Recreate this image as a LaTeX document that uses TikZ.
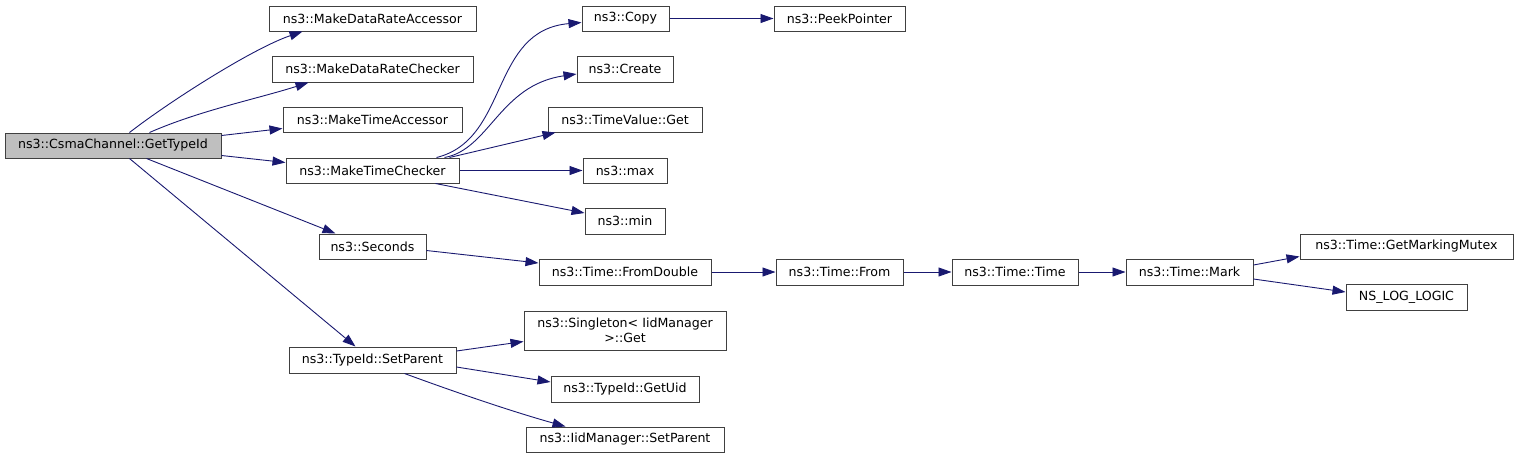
\documentclass[tikz,border=0pt]{standalone}
\usepackage{fontspec}
\setmainfont{DejaVu Sans}
\usetikzlibrary{arrows.meta}
\definecolor{edgeblue}{RGB}{25,25,112}
\definecolor{boxline}{RGB}{64,64,64}
\definecolor{rootfill}{RGB}{191,191,191}
\begin{document}
\begin{tikzpicture}[x=1pt,y=-1pt,
  fbox/.style={draw=boxline, line width=1pt, fill=white, inner sep=0pt, align=center,
    font=\fontsize{12.6}{14.5}\selectfont},
  rootbox/.style={fbox, fill=rootfill},
  call/.style={draw=edgeblue, line width=0.9pt, -{Triangle[length=13pt,width=9pt]}, fill=none},
]
\useasboundingbox (0,0) rectangle (1517,459);
\node[rootbox, minimum width=216, minimum height=25] (gti) at (113,145.5) {ns3::CsmaChannel::GetTypeId};
\node[fbox, minimum width=207, minimum height=25] (mdra) at (372.5,18.5) {ns3::MakeDataRateAccessor};
\node[fbox, minimum width=201, minimum height=26] (mdrc) at (372.5,69) {ns3::MakeDataRateChecker};
\node[fbox, minimum width=179, minimum height=25] (mta) at (372.5,119.5) {ns3::MakeTimeAccessor};
\node[fbox, minimum width=173, minimum height=25] (mtc) at (372.5,170.5) {ns3::MakeTimeChecker};
\node[fbox, minimum width=107, minimum height=25] (sec) at (372.5,246.5) {ns3::Seconds};
\node[fbox, minimum width=167, minimum height=26] (sp) at (372.5,360) {ns3::TypeId::SetParent};
\node[fbox, minimum width=87, minimum height=25] (copy) at (625.5,18.5) {ns3::Copy};
\node[fbox, minimum width=131, minimum height=25] (peek) at (839.5,18.5) {ns3::PeekPointer};
\node[fbox, minimum width=96, minimum height=26] (create) at (625,69) {ns3::Create};
\node[fbox, minimum width=154, minimum height=25] (tvg) at (625,119.5) {ns3::TimeValue::Get};
\node[fbox, minimum width=84, minimum height=25] (max) at (625,170.5) {ns3::max};
\node[fbox, minimum width=80, minimum height=26] (min) at (625,221) {ns3::min};
\node[fbox, minimum width=172, minimum height=26] (fd) at (625,272) {ns3::Time::FromDouble};
\node[fbox, minimum width=127, minimum height=26] (from) at (839.5,272) {ns3::Time::From};
\node[fbox, minimum width=126, minimum height=26] (time) at (1015,272) {ns3::Time::Time};
\node[fbox, minimum width=127, minimum height=26] (mark) at (1189.5,272) {ns3::Time::Mark};
\node[fbox, minimum width=213, minimum height=25] (gmm) at (1406.5,246.5) {ns3::Time::GetMarkingMutex};
\node[fbox, minimum width=121, minimum height=26] (nslog) at (1406.5,297) {NS\_LOG\_LOGIC};
\node[fbox, minimum width=202, minimum height=39] (single) at (625,330.5) {ns3::Singleton\textless{} IidManager\\ \textgreater{}::Get};
\node[fbox, minimum width=148, minimum height=26] (uid) at (625,389) {ns3::TypeId::GetUid};
\node[fbox, minimum width=198, minimum height=25] (iidsp) at (625,439.5) {ns3::IidManager::SetParent};
% edges from GetTypeId
\draw[call] ([xshift=125pt]gti.north west) .. controls +(40pt,31pt) and +(-50pt,-17pt) .. ([xshift=34pt]mdra.south west);
\draw[call] ([xshift=145pt]gti.north west) .. controls +(50pt,22pt) and +(-50pt,-16pt) .. ([xshift=37pt]mdrc.south west);
\draw[call] ([yshift=10pt]gti.east) -- ([yshift=-9pt]mta.west);
\draw[call] ([yshift=-10pt]gti.east) -- ([yshift=8pt]mtc.west);
\draw[call] ([xshift=142pt]gti.south west) -- ([xshift=17pt]sec.north west);
\draw[call] ([xshift=125pt]gti.south west) -- ([xshift=67pt]sp.north west);
% edges from MakeTimeChecker
\draw[call] ([xshift=151pt]mtc.north west) .. controls +(73pt,18pt) and +(-92pt,-8pt) .. ([yshift=-4pt]copy.west);
\draw[call] ([xshift=159pt]mtc.north west) .. controls +(45pt,8pt) and +(-77pt,-11pt) .. ([yshift=-5pt]create.west);
\draw[call] ([xshift=164pt]mtc.north west) -- ([xshift=8pt]tvg.south west);
\draw[call] (mtc.east) -- (max.west);
\draw[call] ([xshift=150pt]mtc.south west) -- ([yshift=8pt]min.west);
\draw[call] (copy.east) -- (peek.west);
% Seconds chain
\draw[call] ([yshift=-4pt]sec.east) -- ([yshift=9pt]fd.west);
\draw[call] (fd.east) -- (from.west);
\draw[call] (from.east) -- (time.west);
\draw[call] (time.east) -- (mark.west);
\draw[call] ([yshift=7pt]mark.east) -- ([yshift=-10pt]gmm.west);
\draw[call] ([yshift=-7pt]mark.east) -- ([yshift=5pt]nslog.west);
% SetParent
\draw[call] ([yshift=9pt]sp.east) -- ([yshift=-11pt]single.west);
\draw[call] ([yshift=-7pt]sp.east) -- ([yshift=7pt]uid.west);
\draw[call] ([xshift=116pt]sp.south west) .. controls +(60pt,-22pt) and +(-50pt,14pt) .. ([xshift=40pt]iidsp.north west);
\end{tikzpicture}
\end{document}
